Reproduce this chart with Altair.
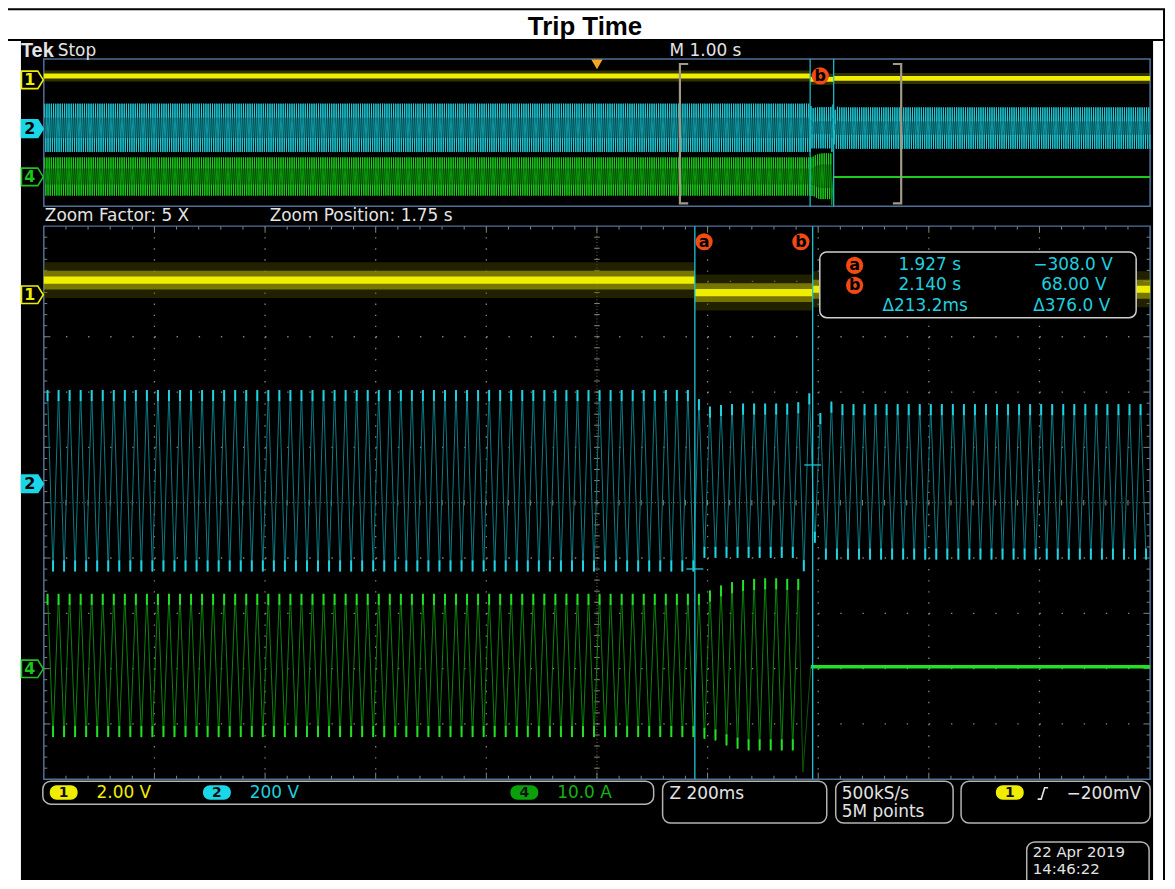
import altair as alt
import pandas as pd

# ================= values =================
TITLE = "Trip Time"
HEADER = ["Tek", "Stop", "M 1.00 s"]
ZOOM_INFO = ["Zoom Factor: 5 X", "Zoom Position: 1.75 s"]
OVERVIEW_WINDOW_S = [-5.0, 5.0]      # 1.00 s/div, trigger at 0 s
ZOOM_WINDOW_S = [0.75, 2.75]         # 200 ms/div, centred on 1.75 s
TRIGGER_S = 0.0

CURSOR_NAMES = ["a", "b"]
CURSOR_S = [1.927, 2.140]
CURSOR_CH2_V = [-308.0, 68.0]
READOUT_TIME = ["1.927 s", "2.140 s", "Δ213.2ms"]
READOUT_VALUE = ["−308.0 V", "68.00 V", "Δ376.0 V"]

CHANNELS = ["1", "2", "4"]
CHANNEL_SCALE_TEXT = ["2.00 V", "200 V", "10.0 A"]
UNITS_PER_DIV = [2.0, 200.0, 10.0]
ACQ_TEXT = ["Z 200ms", "500kS/s", "5M points"]
TRIGGER_TEXT = "−200mV"
DATE_TEXT = ["22 Apr 2019", "14:46:22"]

# 50 Hz line cycles: time of one positive peak, period, cycles shown
CYCLE_PEAK0_S = 0.7567
CYCLE_PERIOD_S = 0.01996
CYCLE_FIRST, CYCLE_LAST = -288, 212
TRANSITION_CYCLE = 59

# Ch2 voltage (V): [peak, trough] before / per cycle in transition / after
CH2_BEFORE_V = [339.0, -317.0]
CH2_TRANSITION_PEAK_V = [306, 279, 285, 288, 290, 290, 290, 290, 290, 295, 327, 256, 297]
CH2_TRANSITION_TROUGH_V = [-268, -268, -268, -268, -268, -268, -268, -268, -268, -316, -213, -274, -274]
CH2_AFTER_V = [288.0, -274.0]

# Ch4 current (A)
CH4_BEFORE_A = [13.2, -12.7]
CH4_TRANSITION_PEAK_A = [13.2, 13.8, 14.7, 15.3, 15.7, 15.9, 16.0, 16.0, 15.9, 15.9]
CH4_TRANSITION_TROUGH_A = [-13.0, -13.3, -14.2, -14.8, -15.1, -15.1, -15.1, -15.1, -15.1]
CH4_BREAK_S = [2.1223, 2.1367]
CH4_BREAK_A = [-19.0, 0.0]

# Ch1 (V): level on each interval
CH1_EDGES_S = [-5.0, 1.927, 2.140, 5.0]
CH1_LEVEL_V = [0.53, 0.08, 0.2]

# ================= layout =================
W, H = 1165, 872
OX = OY = 8
OV_BOX = (44, 57, 1156, 205)
MN_BOX = (44, 225, 1156, 781)
OV_ZERO = [78, 127, 175.5]
MN_ZERO = [294, 484, 668]

YEL = "#f0ee00"
CYN = "#1fd3e2"
CYN_DIM = "#0b7b85"
GRN = "#22e022"
GRN_DIM = "#0a850a"
WHITE = "#e4e4e4"
GRID = "#8a8672"
BORDER = "#50709a"
BADGE = "#f24a12"
FONT = "DejaVu Sans"


def xscale(domain, x0, x1):
    return alt.Scale(domain=list(domain), range=[x0 - OX, x1 - OX], nice=False, zero=False)


def yscale(domain, ytop, ybot):
    return alt.Scale(domain=list(domain), range=[ytop - OY, ybot - OY], nice=False, zero=False)


def chan_y(zero_px, per_div, box):
    top, bot = box[1], box[3]
    ppd = (bot - top) / 10.0
    hi = (zero_px - top) / ppd * per_div
    lo = (zero_px - bot) / ppd * per_div
    return alt.Scale(domain=[lo, hi], range=[bot - OY, top - OY], nice=False, zero=False)


PXX = xscale([OX, OX + W], OX, OX + W)
PXY = yscale([OY, OY + H], OY, OY + H)
OV_T = xscale(OVERVIEW_WINDOW_S, OV_BOX[0], OV_BOX[2])
MN_T = xscale(ZOOM_WINDOW_S, MN_BOX[0], MN_BOX[2])
OV_DX = xscale([0, 10], OV_BOX[0], OV_BOX[2])
OV_DY = yscale([0, 10], OV_BOX[1], OV_BOX[3])
MN_DX = xscale([0, 10], MN_BOX[0], MN_BOX[2])
MN_DY = yscale([0, 10], MN_BOX[1], MN_BOX[3])
OV_CH = [chan_y(z, u, OV_BOX) for z, u in zip(OV_ZERO, UNITS_PER_DIV)]
MN_CH = [chan_y(z, u, MN_BOX) for z, u in zip(MN_ZERO, UNITS_PER_DIV)]

layers = []


def add(df, mark, xs, ys, props=None, x="x", y="y", x2=None, y2=None, **enc):
    ch = getattr(alt.Chart(pd.DataFrame(df)), "mark_" + mark)(**(props or {}))
    e = {"x": alt.X(x + ":Q", scale=xs, axis=None), "y": alt.Y(y + ":Q", scale=ys, axis=None)}
    if x2:
        e["x2"] = alt.X2(x2 + ":Q")
    if y2:
        e["y2"] = alt.Y2(y2 + ":Q")
    e.update(enc)
    layers.append(ch.encode(**e))


def box(x0, y0, x1, y1):
    return {"x": [x0], "y": [y0], "x2": [x1], "y2": [y1]}


# ---------- page frame ----------
add(box(21, 38, 1159, 900), "rect", PXX, PXY, {"color": "black"}, x2="x2", y2="y2")
add({"x": [7, 1170, 7, 7], "x2": [1171, 1170, 7, 1171], "y": [38, 7, 7, 7], "y2": [38, 889, 889, 7]},
    "rule", PXX, PXY, {"color": "black", "strokeWidth": 2}, x2="x2", y2="y2")
add({"x": [588], "y": [33], "s": [TITLE]}, "text", PXX, PXY,
    {"font": "Liberation Sans", "fontSize": 26, "fontWeight": "bold", "align": "center",
     "baseline": "alphabetic", "color": "black"}, text=alt.Text("s:N"))

# ---------- main graticule ----------
maj = [1, 2, 3, 4, 6, 7, 8, 9]
add({"x": maj, "y": [0] * 8, "y2": [10] * 8}, "rule", MN_DX, MN_DY,
    {"color": GRID, "strokeWidth": 1.3, "strokeDash": [1.4, 9.72]}, y2="y2")
add({"y": maj, "x": [0] * 8, "x2": [10] * 8}, "rule", MN_DX, MN_DY,
    {"color": GRID, "strokeWidth": 1.3, "strokeDash": [1.4, 20.84]}, x2="x2")
add({"x": [5, 0], "x2": [5, 10], "y": [0, 5], "y2": [10, 5]}, "rule", MN_DX, MN_DY,
    {"color": "#7c6a4e", "strokeWidth": 1, "strokeDash": [1, 2.2]}, x2="x2", y2="y2")
ticks = {"x": [], "x2": [], "y": [], "y2": []}
for i in range(1, 50):
    p = i * 0.2
    ly = 0.12 if i % 5 == 0 else 0.063
    lx = 0.06 if i % 5 == 0 else 0.031
    for (a, b, c, d) in [(p, p, 0, ly), (p, p, 10, 10 - ly), (0, lx, p, p), (10, 10 - lx, p, p),
                         (5 - 0.025, 5 + 0.025, p, p), (p, p, 5 - 0.05, 5 + 0.05)]:
        ticks["x"].append(a); ticks["x2"].append(b); ticks["y"].append(c); ticks["y2"].append(d)
add(ticks, "rule", MN_DX, MN_DY, {"color": GRID, "strokeWidth": 1}, x2="x2", y2="y2")
add(box(0, 0, 10, 10), "rect", MN_DX, MN_DY,
    {"fillOpacity": 0, "stroke": BORDER, "strokeWidth": 1.5}, x2="x2", y2="y2")
add(box(0, 0, 10, 10), "rect", OV_DX, OV_DY,
    {"fillOpacity": 0, "stroke": BORDER, "strokeWidth": 1.5}, x2="x2", y2="y2")


# ---------- waveform vertices ----------
def ct(k, half=False):
    return CYCLE_PEAK0_S + (k + (0.5 if half else 0.0)) * CYCLE_PERIOD_S


def pick(k, before, trans, after):
    j = k - TRANSITION_CYCLE
    if j < 0:
        return before
    if j < len(trans):
        return trans[j]
    return after


ch2_pts = []
for k in range(CYCLE_FIRST, CYCLE_LAST + 1):
    ch2_pts.append((ct(k), pick(k, CH2_BEFORE_V[0], CH2_TRANSITION_PEAK_V, CH2_AFTER_V[0]), 1))
    ch2_pts.append((ct(k, True), pick(k, CH2_BEFORE_V[1], CH2_TRANSITION_TROUGH_V, CH2_AFTER_V[1]), -1))

ch4_pts = []
last4 = TRANSITION_CYCLE + len(CH4_TRANSITION_PEAK_A) - 1
for k in range(CYCLE_FIRST, last4 + 1):
    ch4_pts.append((ct(k), pick(k, CH4_BEFORE_A[0], CH4_TRANSITION_PEAK_A, 0.0), 1))
    if k < last4:
        ch4_pts.append((ct(k, True), pick(k, CH4_BEFORE_A[1], CH4_TRANSITION_TROUGH_A, 0.0), -1))


def inwin(pts, win):
    return [p for p in pts if win[0] <= p[0] <= win[1]]


def line_df(pts):
    return {"x": [p[0] for p in pts], "y": [p[1] for p in pts], "i": list(range(len(pts)))}


def tip_df(pts, tip):
    return {"x": [p[0] for p in pts], "y": [p[1] for p in pts],
            "y2": [p[1] - p[2] * tip for p in pts]}


def ch1_bands(win, half):
    d = {"x": [], "x2": [], "y": [], "y2": []}
    for t0, t1, v in zip(CH1_EDGES_S[:-1], CH1_EDGES_S[1:], CH1_LEVEL_V):
        a, b = max(t0, win[0]), min(t1, win[1])
        if b > a:
            d["x"].append(a); d["x2"].append(b); d["y"].append(v - half); d["y2"].append(v + half)
    return d


# ---------- overview traces ----------
add(ch1_bands(OVERVIEW_WINDOW_S, 0.75), "rect", OV_T, OV_CH[0], {"color": "#6e6e00", "opacity": 0.45},
    x2="x2", y2="y2")
add(ch1_bands(OVERVIEW_WINDOW_S, 0.33), "rect", OV_T, OV_CH[0], {"color": YEL}, x2="x2", y2="y2")
ov2 = inwin(ch2_pts, OVERVIEW_WINDOW_S)
add(line_df(ov2), "line", OV_T, OV_CH[1], {"color": "#0f98a3", "strokeWidth": 1}, order=alt.Order("i:Q"))
add(tip_df(ov2, 190.0), "rule", OV_T, OV_CH[1], {"color": "#2ad9e6", "strokeWidth": 1, "opacity": 0.85},
    y2="y2")
ov4 = inwin(ch4_pts, OVERVIEW_WINDOW_S)
ov4_line = ov4 + [(CH4_BREAK_S[0], CH4_BREAK_A[0], 0), (CH4_BREAK_S[1], CH4_BREAK_A[1], 0)]
add(line_df(ov4_line), "line", OV_T, OV_CH[2], {"color": "#0c9a0c", "strokeWidth": 1},
    order=alt.Order("i:Q"))
add(tip_df(ov4, 7.5), "rule", OV_T, OV_CH[2], {"color": "#25dd25", "strokeWidth": 1, "opacity": 0.85},
    y2="y2")
add({"x": [CH4_BREAK_S[1]], "x2": [OVERVIEW_WINDOW_S[1]], "y": [0.0]}, "rule", OV_T, OV_CH[2],
    {"color": "#1ccc1c", "strokeWidth": 2}, x2="x2")

# ---------- main (zoomed) traces ----------
add(ch1_bands(ZOOM_WINDOW_S, 0.65), "rect", MN_T, MN_CH[0], {"color": "#4a4a00", "opacity": 0.45},
    x2="x2", y2="y2")
add(ch1_bands(ZOOM_WINDOW_S, 0.34), "rect", MN_T, MN_CH[0], {"color": "#9a9a00", "opacity": 0.7},
    x2="x2", y2="y2")
add(ch1_bands(ZOOM_WINDOW_S, 0.13), "rect", MN_T, MN_CH[0], {"color": YEL}, x2="x2", y2="y2")
mn2 = inwin(ch2_pts, ZOOM_WINDOW_S)
add(line_df(mn2), "line", MN_T, MN_CH[1], {"color": CYN_DIM, "strokeWidth": 1}, order=alt.Order("i:Q"))
add(tip_df(mn2, 40.0), "rule", MN_T, MN_CH[1], {"color": CYN, "strokeWidth": 2}, y2="y2")
mn4 = inwin(ch4_pts, ZOOM_WINDOW_S)
add(line_df(mn4), "line", MN_T, MN_CH[2], {"color": GRN_DIM, "strokeWidth": 1}, order=alt.Order("i:Q"))
brk = [mn4[-1], (CH4_BREAK_S[0], CH4_BREAK_A[0], 0), (CH4_BREAK_S[1], CH4_BREAK_A[1], 0)]
add(line_df(brk), "line", MN_T, MN_CH[2], {"color": "#0a5a0a", "strokeWidth": 1}, order=alt.Order("i:Q"))
add(tip_df(mn4, 2.0), "rule", MN_T, MN_CH[2], {"color": GRN, "strokeWidth": 2}, y2="y2")
add({"x": [CH4_BREAK_S[1]], "x2": [ZOOM_WINDOW_S[1]], "y": [0.0]}, "rule", MN_T, MN_CH[2],
    {"color": GRN, "strokeWidth": 3.5}, x2="x2")

# ---------- cursors ----------
add({"x": CURSOR_S, "y": [0, 0], "y2": [10, 10]}, "rule", MN_T, MN_DY,
    {"color": "#1cc6d6", "strokeWidth": 1.3}, y2="y2")
add({"x": CURSOR_S, "y": [0, 0], "y2": [10, 10]}, "rule", OV_T, OV_DY,
    {"color": "#1cc6d6", "strokeWidth": 1.2}, y2="y2")
add({"x": [t - 0.0153 for t in CURSOR_S], "x2": [t + 0.0153 for t in CURSOR_S], "y": CURSOR_CH2_V},
    "rule", MN_T, MN_CH[1], {"color": "#1cc6d6", "strokeWidth": 1.3}, x2="x2")

# ---------- zoom bracket & trigger ----------
z0, z1 = ZOOM_WINDOW_S
sf = 0.075
add({"x": [z0 + sf, z0, z0, z0 + sf, z1 - sf, z1, z1, z1 - sf],
     "y": [0.34, 0.34, 9.8, 9.8, 0.34, 0.34, 9.8, 9.8],
     "g": ["l"] * 4 + ["r"] * 4, "i": list(range(8))},
    "line", OV_T, OV_DY, {"color": "#a39a86", "strokeWidth": 2.2},
    detail="g:N", order=alt.Order("i:Q"))
add({"x": [TRIGGER_S], "y": [0.36]}, "point", OV_T, OV_DY,
    {"shape": "triangle-down", "size": 130, "filled": True, "color": "#f5a623", "opacity": 1})

# ---------- cursor readout ----------
add(box(824, 251, 1142, 317), "rect", PXX, PXY,
    {"color": "black", "stroke": "#cfcfcf", "strokeWidth": 1.5, "cornerRadius": 7}, x2="x2", y2="y2")

# ---------- bottom boxes ----------
bx = {"x": [43, 666, 840, 966, 1032], "y": [783, 783, 783, 783, 844],
      "x2": [657, 831, 958, 1156, 1155], "y2": [806, 825, 825, 825, 905]}
add(bx, "rect", PXX, PXY, {"color": "black", "stroke": "#b4b4b4", "strokeWidth": 1.5, "cornerRadius": 8},
    x2="x2", y2="y2")
caps = {"x": [50, 204, 513, 1001], "x2": [78, 232, 541, 1029], "y": [787] * 4, "y2": [801.5] * 4,
        "c": [YEL, "#1ad6e6", "#0aa00a", YEL]}
add(caps, "rect", PXX, PXY, {"cornerRadius": 7}, x2="x2", y2="y2", color=alt.Color("c:N", scale=None))
add({"x": [64, 218, 527, 1015], "y": [794.5] * 4, "s": [CHANNELS[0], CHANNELS[1], CHANNELS[2], CHANNELS[0]]},
    "text", PXX, PXY, {"font": FONT, "fontSize": 14, "fontWeight": "bold", "color": "#111111",
                       "align": "center", "baseline": "middle"}, text=alt.Text("s:N"))
add({"x": [1043, 1046.5, 1050, 1053.5], "y": [801, 801, 789.5, 789.5], "i": [0, 1, 2, 3]},
    "line", PXX, PXY, {"color": WHITE, "strokeWidth": 1.6}, order=alt.Order("i:Q"))

# ---------- texts ----------
rows = []


def T(x, y, s, c, fs=17.0):
    rows.append({"x": x, "y": y, "s": s, "c": c, "fs": fs})


CYT = "#1fcfdf"
GRT = "#12b412"
T(58, 49, HEADER[1], WHITE)
T(673, 49, HEADER[2], WHITE)
T(45, 215, ZOOM_INFO[0], WHITE)
T(271, 215, ZOOM_INFO[1], WHITE)
T(903, 264.5, READOUT_TIME[0], CYT)
T(903, 284.5, READOUT_TIME[1], CYT)
T(887, 305.5, READOUT_TIME[2], CYT)
T(1038.6, 264.5, READOUT_VALUE[0], CYT)
T(1046.5, 284.5, READOUT_VALUE[1], CYT)
T(1038.6, 305.5, READOUT_VALUE[2], CYT)
T(97, 795, CHANNEL_SCALE_TEXT[0], YEL)
T(251, 795, CHANNEL_SCALE_TEXT[1], CYT)
T(560, 795, CHANNEL_SCALE_TEXT[2], GRT)
T(673, 796, ACQ_TEXT[0], WHITE)
T(846, 796, ACQ_TEXT[1], WHITE)
T(846, 814, ACQ_TEXT[2], WHITE)
T(1072, 796, TRIGGER_TEXT, WHITE)
T(1038, 854, DATE_TEXT[0], WHITE, 15)
T(1038, 871, DATE_TEXT[1], WHITE, 15)
add(pd.DataFrame(rows), "text", PXX, PXY, {"font": FONT, "align": "left", "baseline": "middle"},
    text=alt.Text("s:N"), color=alt.Color("c:N", scale=None), size=alt.Size("fs:Q", scale=None))
add({"x": [21], "y": [49], "s": [HEADER[0]]}, "text", PXX, PXY,
    {"font": "Liberation Sans", "fontSize": 20, "fontWeight": "bold", "color": WHITE,
     "align": "left", "baseline": "middle"}, text=alt.Text("s:N"))

# ---------- cursor badges ----------
bdg = {"x": [707.7, 805, 859, 859, 824.5], "y": [240.7, 240.7, 264.5, 284.5, 74],
       "s": [CURSOR_NAMES[0], CURSOR_NAMES[1], CURSOR_NAMES[0], CURSOR_NAMES[1], CURSOR_NAMES[1]]}
add(bdg, "point", PXX, PXY, {"shape": "circle", "size": 300, "filled": True, "color": BADGE, "opacity": 1})
add(bdg, "text", PXX, PXY, {"font": FONT, "fontSize": 16, "fontWeight": "bold", "color": "black",
                            "align": "center", "baseline": "middle"}, text=alt.Text("s:N"))

# ---------- channel markers ----------
PENT = "M -1 -0.8 L 0.5 -0.8 L 1 0 L 0.5 0.8 L -1 0.8 Z"
mk = {"x": [32.5] * 6, "y": [MN_ZERO[0], MN_ZERO[1], 670, OV_ZERO[0], OV_ZERO[1], OV_ZERO[2]],
      "f": ["black", "#1ad6e6", "black", "black", "#1ad6e6", "black"],
      "s": [YEL, "#1ad6e6", "#1cc41c", YEL, "#1ad6e6", "#1cc41c"]}
add(mk, "point", PXX, PXY, {"shape": PENT, "size": 480, "strokeWidth": 1.6, "opacity": 1, "filled": True},
    fill=alt.Fill("f:N", scale=None), stroke=alt.Stroke("s:N", scale=None))
mt = {"x": [30] * 6, "y": mk["y"], "s": [CHANNELS[0], CHANNELS[1], CHANNELS[2]] * 2,
      "c": [YEL, "#000000", "#1cc41c", YEL, "#000000", "#1cc41c"]}
add(mt, "text", PXX, PXY, {"font": FONT, "fontSize": 16, "align": "center", "baseline": "middle",
                           "fontWeight": "bold"},
    text=alt.Text("s:N"), color=alt.Color("c:N", scale=None))

chart = alt.layer(*layers).resolve_scale(x="independent", y="independent").properties(
    width=W, height=H, padding=0, autosize=alt.AutoSizeParams(type="none"), background="white"
).configure_view(stroke=None)

chart.save("out.html", embed_options={"renderer": "svg", "actions": False})
